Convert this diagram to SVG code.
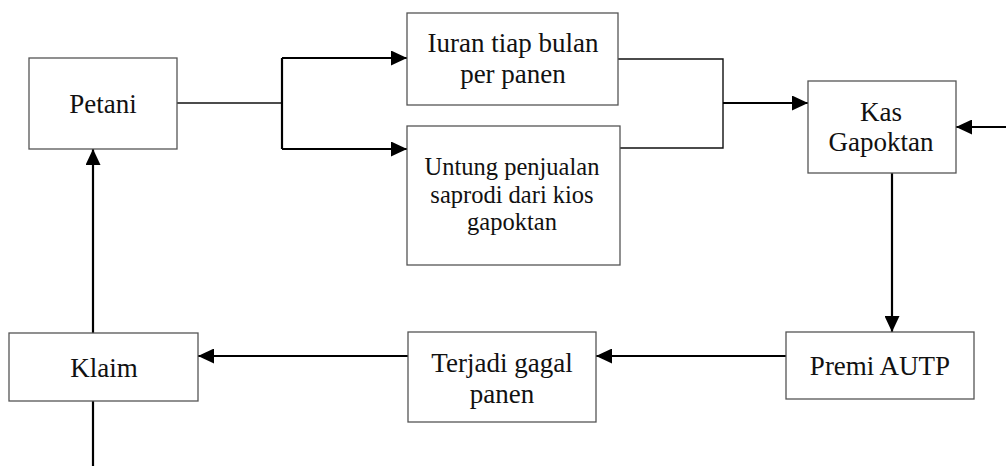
<svg xmlns="http://www.w3.org/2000/svg" width="1006" height="466" viewBox="0 0 1006 466">
  <defs>
    <marker id="arrow" markerUnits="userSpaceOnUse" markerWidth="17" markerHeight="15" refX="16" refY="7.5" orient="auto">
      <path d="M0,0 L16,7.5 L0,15 z" fill="#000"/>
    </marker>
    <style>
      .box { fill: #fff; stroke: #555; stroke-width: 1.3; }
      .lbl { font-family: "Liberation Serif", "Times New Roman", serif; font-size: 27px; fill: #111; text-anchor: middle; }
      .sm { font-size: 24.5px; }
      .ln { fill: none; stroke: #111; stroke-width: 1.4; }
      .arr { fill: none; stroke: #000; stroke-width: 2.2; marker-end: url(#arrow); }
      .thk { fill: none; stroke: #000; stroke-width: 2.2; }
    </style>
  </defs>

  <rect width="1006" height="466" fill="#fff"/>

  <g id="connectors">
    <!-- Petani splits into the two income sources -->
    <path class="ln" d="M177,103 H282"/>
    <path class="thk" d="M282,58 V149"/>
    <path class="arr" d="M282,58 H407"/>
    <path class="arr" d="M282,149 H407"/>
    <!-- both sources merge into Kas Gapoktan -->
    <path class="ln" d="M618,59 H723 V148 H620"/>
    <path class="arr" d="M723,103 H808"/>
    <!-- outside inflow into Kas Gapoktan -->
    <path class="arr" d="M1006,127 H956"/>
    <!-- Kas Gapoktan to Premi AUTP -->
    <path class="arr" d="M892,173 V332"/>
    <!-- Premi AUTP to Terjadi gagal panen -->
    <path class="arr" d="M786,356 H596"/>
    <!-- Terjadi gagal panen to Klaim -->
    <path class="arr" d="M408,356 H198"/>
    <!-- Klaim back to Petani -->
    <path class="arr" d="M93,333 V149"/>
    <path class="thk" d="M93,401 V466"/>
  </g>

  <g id="petani">
    <rect class="box" x="29" y="58" width="148" height="91"/>
    <text class="lbl" x="103" y="113">Petani</text>
  </g>

  <g id="iuran">
    <rect class="box" x="407" y="13" width="211" height="92"/>
    <text class="lbl" x="513" y="52">Iuran tiap bulan</text>
    <text class="lbl" x="513" y="83">per panen</text>
  </g>

  <g id="untung">
    <rect class="box" x="407" y="126" width="213" height="139"/>
    <text class="lbl sm" x="512" y="175">Untung penjualan</text>
    <text class="lbl sm" x="512" y="203">saprodi dari kios</text>
    <text class="lbl sm" x="512" y="230">gapoktan</text>
  </g>

  <g id="kas">
    <rect class="box" x="808" y="81" width="148" height="92"/>
    <text class="lbl" x="881" y="121">Kas</text>
    <text class="lbl" x="881" y="151">Gapoktan</text>
  </g>

  <g id="premi">
    <rect class="box" x="786" y="332" width="188" height="67"/>
    <text class="lbl" x="880" y="375">Premi AUTP</text>
  </g>

  <g id="terjadi">
    <rect class="box" x="408" y="332" width="188" height="90"/>
    <text class="lbl" x="502" y="372">Terjadi gagal</text>
    <text class="lbl" x="502" y="403">panen</text>
  </g>

  <g id="klaim">
    <rect class="box" x="9" y="333" width="189" height="68"/>
    <text class="lbl" x="104" y="377">Klaim</text>
  </g>
</svg>
